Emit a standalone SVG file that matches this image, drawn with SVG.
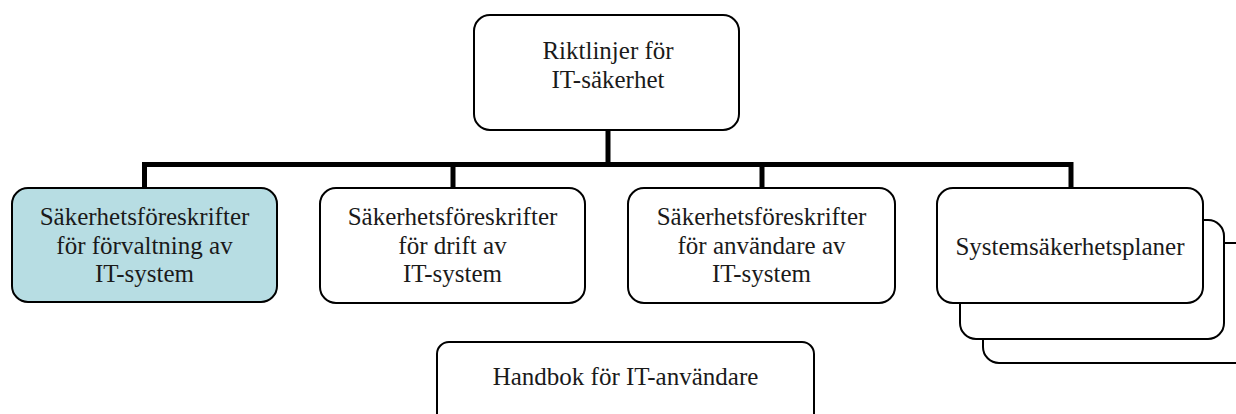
<svg xmlns="http://www.w3.org/2000/svg" width="1236" height="414" viewBox="0 0 1236 414">
  <style>
    .box { fill: #ffffff; stroke: #000000; stroke-width: 2; }
    .hl { fill: #b7dde3; }
    .lbl { font-family: "Liberation Serif", "Times New Roman", serif; font-size: 25px; fill: #1a1a1a; text-anchor: middle; }
    .link { fill: none; stroke: #000000; stroke-width: 5; stroke-linecap: butt; stroke-linejoin: miter; }
  </style>

  <!-- hierarchy connectors -->
  <g id="connectors">
    <path class="link" d="M608 130 V164.5"/>
    <path class="link" d="M144.5 188 V164.5 H1071 V188"/>
    <path class="link" d="M453 164.5 V188"/>
    <path class="link" d="M762 164.5 V188"/>
  </g>

  <g id="node-riktlinjer">
    <rect class="box" x="474" y="15" width="265" height="115" rx="16"/>
    <text class="lbl" x="608" y="59">Riktlinjer för</text>
    <text class="lbl" x="608" y="88">IT-säkerhet</text>
  </g>

  <g id="node-forvaltning">
    <rect class="box hl" x="12" y="188" width="265" height="114" rx="16"/>
    <text class="lbl" x="144.5" y="225">Säkerhetsföreskrifter</text>
    <text class="lbl" x="144.5" y="254">för förvaltning av</text>
    <text class="lbl" x="144.5" y="282">IT-system</text>
  </g>

  <g id="node-drift">
    <rect class="box" x="320" y="188" width="265" height="115" rx="16"/>
    <text class="lbl" x="452.5" y="225">Säkerhetsföreskrifter</text>
    <text class="lbl" x="452.5" y="254">för drift av</text>
    <text class="lbl" x="452.5" y="282">IT-system</text>
  </g>

  <g id="node-anvandare">
    <rect class="box" x="628" y="188" width="267" height="115" rx="16"/>
    <text class="lbl" x="761.5" y="225">Säkerhetsföreskrifter</text>
    <text class="lbl" x="761.5" y="254">för användare av</text>
    <text class="lbl" x="761.5" y="282">IT-system</text>
  </g>

  <!-- stacked set of plans -->
  <g id="node-systemplaner">
    <rect class="box" x="983" y="243" width="270" height="120" rx="16"/>
    <rect class="box" x="960" y="220" width="264" height="119" rx="16"/>
    <rect class="box" x="937" y="188" width="266" height="115" rx="16"/>
    <text class="lbl" x="1070" y="255">Systemsäkerhetsplaner</text>
  </g>

  <g id="node-handbok">
    <rect class="box" x="437" y="342" width="377" height="90" rx="12"/>
    <text class="lbl" x="625.5" y="385">Handbok för IT-användare</text>
  </g>
</svg>
